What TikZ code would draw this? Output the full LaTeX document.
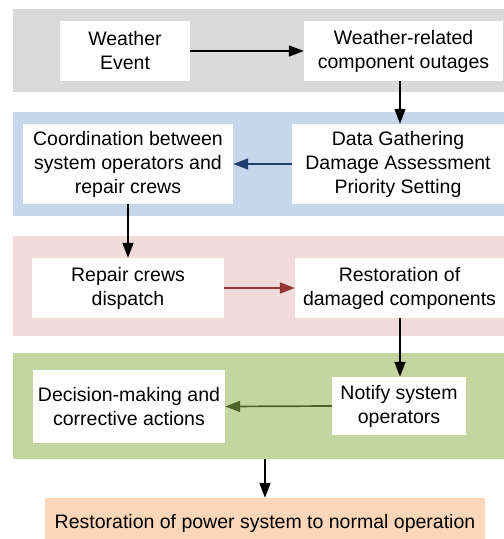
\documentclass[tikz,border=0pt]{standalone}
\usepackage{fontspec}
\setmainfont{Liberation Sans}
\usetikzlibrary{arrows.meta}
\definecolor{bandgray}{HTML}{D9D9D9}
\definecolor{bandblue}{HTML}{C6D7EC}
\definecolor{bandpink}{HTML}{F2DCDB}
\definecolor{bandgreen}{HTML}{C4D6A0}
\definecolor{peach}{HTML}{FBD6B8}
\definecolor{arrblue}{HTML}{1F3F6E}
\definecolor{arrred}{HTML}{963634}
\definecolor{arrgreen}{HTML}{4F6228}
\tikzset{
  band/.style={draw=none, inner sep=0pt, anchor=north west},
  wbox/.style={fill=white, draw=none, inner sep=0pt, align=center,
    font=\fontsize{19.5bp}{24bp}\selectfont},
  arr/.style={line width=1.7bp, -{Triangle[length=15bp,width=11bp]}},
}
\begin{document}
\begin{tikzpicture}[x=1bp,y=-1bp]
\useasboundingbox (0,0) rectangle (504,539);
% bands
\node[band, fill=bandgray, minimum width=491bp, minimum height=83bp] (b1) at (13,9) {};
\node[band, fill=bandblue, minimum width=491bp, minimum height=104bp] (b2) at (13,112) {};
\node[band, fill=bandpink, minimum width=491bp, minimum height=100bp] (b3) at (13,236) {};
\node[band, fill=bandgreen, minimum width=491bp, minimum height=106bp] (b4) at (13,353) {};
% boxes
\node[wbox, minimum width=130bp, minimum height=60bp] (we) at (125,51) {Weather\\Event};
\node[wbox, minimum width=199bp, minimum height=60bp] (wr) at (403.5,51) {Weather-related\\component outages};
\node[wbox, minimum width=210bp, minimum height=80bp] (co) at (128,164) {Coordination between\\system operators and\\repair crews};
\node[wbox, minimum width=212bp, minimum height=80bp] (dg) at (398,164) {Data Gathering\\Damage Assessment\\Priority Setting};
\node[wbox, minimum width=192bp, minimum height=60bp] (rc) at (128,288) {Repair crews\\dispatch};
\node[wbox, minimum width=209bp, minimum height=60bp] (rs) at (399.5,288) {Restoration of\\damaged components};
\node[wbox, minimum width=192bp, minimum height=73bp] (dm) at (129,406.5) {Decision-making and\\corrective actions};
\node[wbox, minimum width=134bp, minimum height=58bp] (nt) at (399,406) {Notify system\\operators};
\node[wbox, fill=peach, minimum width=440bp, minimum height=50bp] (fn) at (265,523) {Restoration of power system to normal operation};
% connectors
\draw[arr] (we.east) -- (wr.west);
\draw[arr] ([xshift=-3.5bp]wr.south) -- ([xshift=2bp]dg.north);
\draw[arr, arrblue] (dg.west) -- (co.east);
\draw[arr] (co.south) -- (rc.north);
\draw[arr, arrred] (rc.east) -- (rs.west);
\draw[arr] ([xshift=0.5bp]rs.south) -- ([xshift=1bp]nt.north);
\draw[arr, arrgreen] (nt.west) -- (dm.east);
\draw[arr] (fn.north |- b4.south) -- (fn.north);
\end{tikzpicture}
\end{document}
